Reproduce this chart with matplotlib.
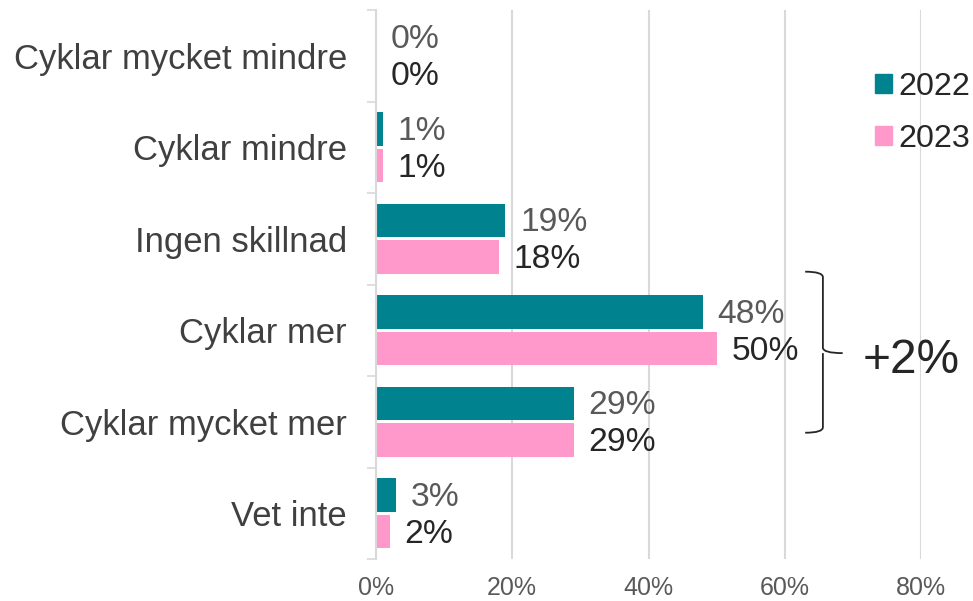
import matplotlib
matplotlib.use("Agg")
import matplotlib.pyplot as plt
from matplotlib.path import Path
from matplotlib.patches import PathPatch, Patch
import numpy as np

plt.rcParams['font.family'] = ['Liberation Sans', 'DejaVu Sans']

categories = ["Cyklar mycket mindre", "Cyklar mindre", "Ingen skillnad",
              "Cyklar mer", "Cyklar mycket mer", "Vet inte"]
values_2022 = [0, 1, 19, 48, 29, 3]
values_2023 = [0, 1, 18, 50, 29, 2]
series_labels = ["2022", "2023"]
xticks = [0, 20, 40, 60, 80]
xtick_labels = ["0%", "20%", "40%", "60%", "80%"]
annotation_text = "+2%"

c22 = "#00838F"
c23 = "#FF99CC"

fig = plt.figure(figsize=(9.73, 6.01), dpi=100)
ax = fig.add_axes([376/973, 1-559/601, (921-376)/973, (559-10)/601])

y = np.arange(len(categories))
h = 0.37
off = 0.2
ax.barh(y - off, values_2022, height=h, color=c22, zorder=3)
ax.barh(y + off, values_2023, height=h, color=c23, zorder=3)

for yy, v in zip(y - off, values_2022):
    ax.annotate(f"{v}%", (v, yy), xytext=(10.5, -1.8), textcoords="offset points",
                va="center", ha="left", fontsize=24.2, color="#595959")
for yy, v in zip(y + off, values_2023):
    ax.annotate(f"{v}%", (v, yy), xytext=(10.5, -1.8), textcoords="offset points",
                va="center", ha="left", fontsize=24.2, color="#262626")

ax.set_xlim(0, 80)
ax.set_ylim(len(categories) - 0.5, -0.5)
ax.set_xticks(xticks)
ax.set_xticklabels(xtick_labels, fontsize=18, color="#595959")
ax.set_yticks(y)
ax.set_yticklabels(categories, fontsize=24.9, color="#404040")
ax.set_yticks(np.arange(len(categories) + 1) - 0.5, minor=True)
ax.tick_params(axis="y", which="major", length=0, pad=21)
ax.tick_params(axis="y", which="minor", length=6.5, color="#D9D9D9", width=1.2)
ax.tick_params(axis="x", length=0, pad=12)
ax.grid(axis="x", color="#D9D9D9", linewidth=1.5, zorder=0)
for s in ["top", "right", "bottom"]:
    ax.spines[s].set_visible(False)
ax.spines["left"].set_color("#D9D9D9")
ax.spines["left"].set_linewidth(1.5)
ax.spines["left"].set_zorder(4)

# Bracket
x0, x1, x2 = 63.0, 65.6, 68.5
ytop, ymid, ybot = 2.36, 3.25, 4.12
r = 0.06
verts = [(x0, ytop), (x1, ytop), (x1, ytop + r),
         (x1, ymid - r), (x1, ymid), (x2, ymid),
         (x1, ymid), (x1, ymid + r),
         (x1, ybot - r), (x1, ybot), (x0, ybot)]
codes = [Path.MOVETO, Path.CURVE3, Path.CURVE3,
         Path.LINETO, Path.CURVE3, Path.LINETO,
         Path.MOVETO, Path.CURVE3,
         Path.LINETO, Path.CURVE3, Path.CURVE3]
ax.add_patch(PathPatch(Path(verts, codes), fill=False, edgecolor="#262626",
                       linewidth=1.3, clip_on=False, zorder=5))
ax.text(78.5, 3.33, annotation_text, fontsize=34.5, color="#262626",
        ha="center", va="center", clip_on=False)

handles = [Patch(facecolor=c22, edgecolor=c22), Patch(facecolor=c23, edgecolor=c23)]
fig.legend(handles, series_labels, loc="upper left",
           bbox_to_anchor=(875/973, 1-72/601), frameon=False, fontsize=23.2,
           handlelength=0.52, handleheight=0.52, handletextpad=0.22,
           labelspacing=0.68, borderpad=0, borderaxespad=0, labelcolor="#262626")

fig.savefig("out.png", dpi=100)
